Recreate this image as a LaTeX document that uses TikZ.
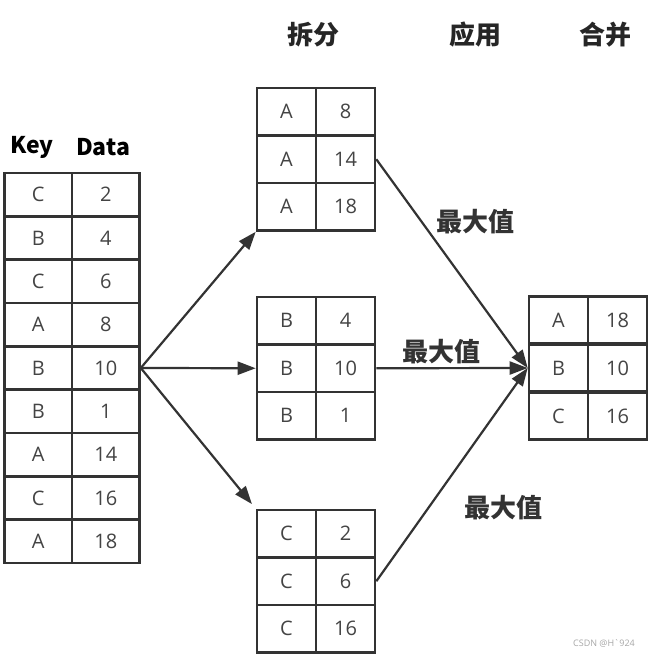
\documentclass[tikz,border=0pt]{standalone}
\usepackage{fontspec}
\setmainfont{Open Sans}
\newfontfamily\cjk{Noto Sans CJK SC}
\usetikzlibrary{arrows.meta,positioning}
\definecolor{linegray}{HTML}{333333}
\definecolor{textgray}{HTML}{444444}

\begin{document}
\begin{tikzpicture}[
  x=1pt, y=-1pt,
  cell/.style={draw=linegray, line width=2.6pt, fill=white, inner sep=0pt,
               text=textgray, font=\fontsize{20}{20}\selectfont},
  srccell/.style={cell, minimum width=67.5pt, minimum height=43.33pt},
  grpcell/.style={cell, minimum width=59pt, minimum height=47.5pt},
  head/.style={font=\cjk\bfseries\fontsize{26}{26}\selectfont, text=black!85},
  colhead/.style={font=\cjk\bfseries\fontsize{23}{23}\selectfont, text=black},
  agg/.style={font=\cjk\bfseries\fontsize{26}{26}\selectfont, text=black!80},
  arr/.style={-{Triangle[length=18pt,width=13pt]}, line width=2.2pt, draw=linegray}
]
\useasboundingbox (0,0) rectangle (658,658);

% stage titles
\node[head] (split) at (313,35) {拆分};
\node[head] (apply) at (475,35) {应用};
\node[head] (merge) at (605,35) {合并};

% source table
\node[colhead] (keyhead) at (32,147) {Key};
\node[colhead] (datahead) at (103,147) {Data};
\foreach \k/\d [count=\i] in {C/2,B/4,C/6,A/8,B/10,B/1,A/14,C/16,A/18} {
  \node[srccell] (k\i) at (38.25, {173+43.33*(\i-0.5)}) {\k};
  \node[srccell] (d\i) at (105.75, {173+43.33*(\i-0.5)}) {\d};
}

% groups after the split
\foreach \g/\top/\rows in {a/88/{A/8,A/14,A/18}, b/297/{B/4,B/10,B/1}, c/510/{C/2,C/6,C/16}} {
  \foreach \k/\d [count=\i] in \rows {
    \node[grpcell] (\g k\i) at (286.5, {\top+47.5*(\i-0.5)}) {\k};
    \node[grpcell] (\g d\i) at (345.5, {\top+47.5*(\i-0.5)}) {\d};
  }
}

% merged result
\foreach \k/\d [count=\i] in {A/18,B/10,C/16} {
  \node[grpcell] (rk\i) at (558.5, {296+48*(\i-0.5)}) {\k};
  \node[grpcell] (rd\i) at (617.5, {296+48*(\i-0.5)}) {\d};
}

% aggregation labels
\node[agg] (max1) at (475,222) {最大值};
\node[agg] (max2) at (441,352) {最大值};
\node[agg] (max3) at (503,508) {最大值};

\draw[arr] (d5.east) -- (ak3.south west);
\draw[arr] (d5.east) -- (bk2.west);
\draw[arr, shorten >=6pt] (d5.east) -- (ck1.north west);
\draw[arr] (ad2.east) -- (rk2.west);
\draw[arr] (bd2.east) -- (rk2.west);
\draw[arr] (cd2.east) -- (rk2.west);

\node[font=\fontsize{9}{9}\selectfont, text=gray!70] (mark) at (604,643) {CSDN @H\textasciigrave 924};
\end{tikzpicture}
\end{document}
